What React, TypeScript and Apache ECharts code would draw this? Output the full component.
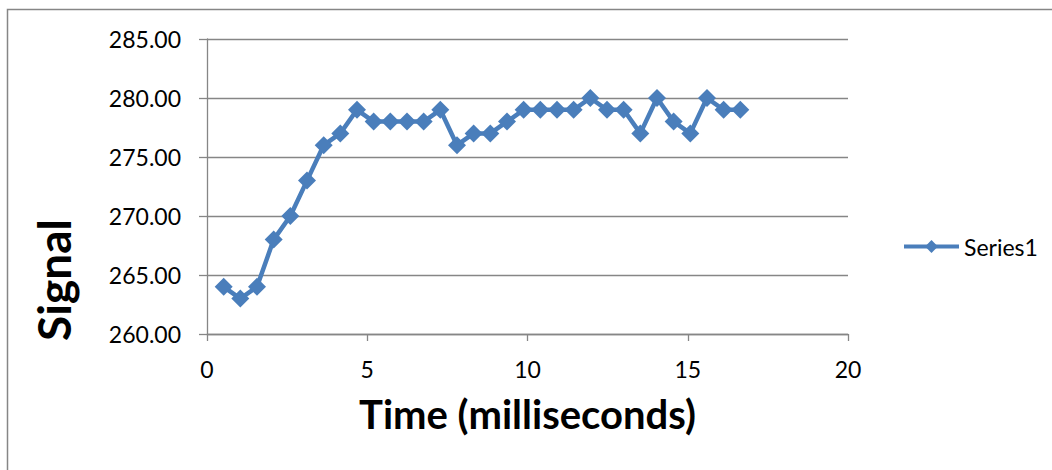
import React, { useEffect, useRef } from "react";
import * as echarts from "echarts";

// Sample times (ms) and measured signal levels
const timeMs = [
  0.52, 1.04, 1.56, 2.08, 2.6, 3.12, 3.64, 4.16, 4.68, 5.2, 5.72, 6.24, 6.76,
  7.28, 7.8, 8.32, 8.84, 9.36, 9.88, 10.4, 10.92, 11.44, 11.96, 12.48, 13.0,
  13.52, 14.04, 14.56, 15.08, 15.6, 16.12, 16.64,
];
const signal = [
  264, 263, 264, 268, 270, 273, 276, 277, 279, 278, 278, 278, 278, 279, 276,
  277, 277, 278, 279, 279, 279, 279, 280, 279, 279, 277, 280, 278, 277, 280,
  279, 279,
];
const seriesName = "Series1";
const xTitle = "Time (milliseconds)";
const yTitle = "Signal";

const FONT = "Lato, 'Open Sans', sans-serif";
const BLUE = "#4a7ebb";
const GRAY = "#868686";

export default function App() {
  const ref = useRef<HTMLDivElement>(null);

  useEffect(() => {
    if (!ref.current) return;
    const chart = echarts.init(ref.current, undefined, { renderer: "svg" });
    const points = timeMs.map((t, i) => [t, signal[i]]);

    chart.setOption({
      animation: false,
      backgroundColor: "#ffffff",
      textStyle: { fontFamily: FONT },
      grid: { left: 207, top: 39, width: 641, height: 295, containLabel: false },
      legend: {
        data: [seriesName],
        left: 902,
        top: 235,
        padding: 0,
        itemWidth: 55,
        itemHeight: 16,
        lineStyle: { width: 4 },
        textStyle: { fontFamily: FONT, fontSize: 23, color: "#000" },
      },
      xAxis: {
        type: "value",
        min: 0,
        max: 20,
        interval: 5,
        name: xTitle,
        nameLocation: "middle",
        nameGap: 60,
        nameTextStyle: { fontFamily: FONT, fontSize: 40, fontWeight: "bold", color: "#000" },
        axisLine: { show: true, lineStyle: { color: GRAY, width: 1.3 } },
        axisTick: { show: true, length: 7, lineStyle: { color: GRAY, width: 1.3 } },
        axisLabel: { fontFamily: FONT, fontSize: 23, color: "#000", margin: 23 },
        splitLine: { show: false },
      },
      yAxis: {
        type: "value",
        min: 260,
        max: 285,
        interval: 5,
        axisLine: { show: true, lineStyle: { color: GRAY, width: 1.3 } },
        axisTick: { show: true, length: 8, lineStyle: { color: GRAY, width: 1.3 } },
        axisLabel: {
          fontFamily: FONT,
          fontSize: 23,
          color: "#000",
          margin: 26,
          formatter: (v: number) => v.toFixed(2),
        },
        splitLine: { show: true, lineStyle: { color: GRAY, width: 1.3 } },
      },
      graphic: [
        {
          type: "rect",
          silent: true,
          shape: { x: 7.5, y: 9.5, width: 1100, height: 520 },
          style: { fill: "none", stroke: GRAY, lineWidth: 1.5 },
        },
        {
          type: "text",
          x: 53,
          y: 280,
          rotation: Math.PI / 2,
          style: {
            text: yTitle,
            font: `bold 46px ${FONT}`,
            fill: "#000",
            textAlign: "center",
            textVerticalAlign: "middle",
          },
        },
      ],
      series: [
        {
          name: seriesName,
          type: "line",
          data: points,
          symbol: "diamond",
          symbolSize: 18,
          showAllSymbol: true,
          lineStyle: { color: BLUE, width: 4.5 },
          itemStyle: { color: BLUE },
        },
      ],
    });

    return () => chart.dispose();
  }, []);

  return (
    <div
      ref={ref}
      style={{ position: "fixed", left: 0, top: 0, width: 1052, height: 470 }}
    />
  );
}
